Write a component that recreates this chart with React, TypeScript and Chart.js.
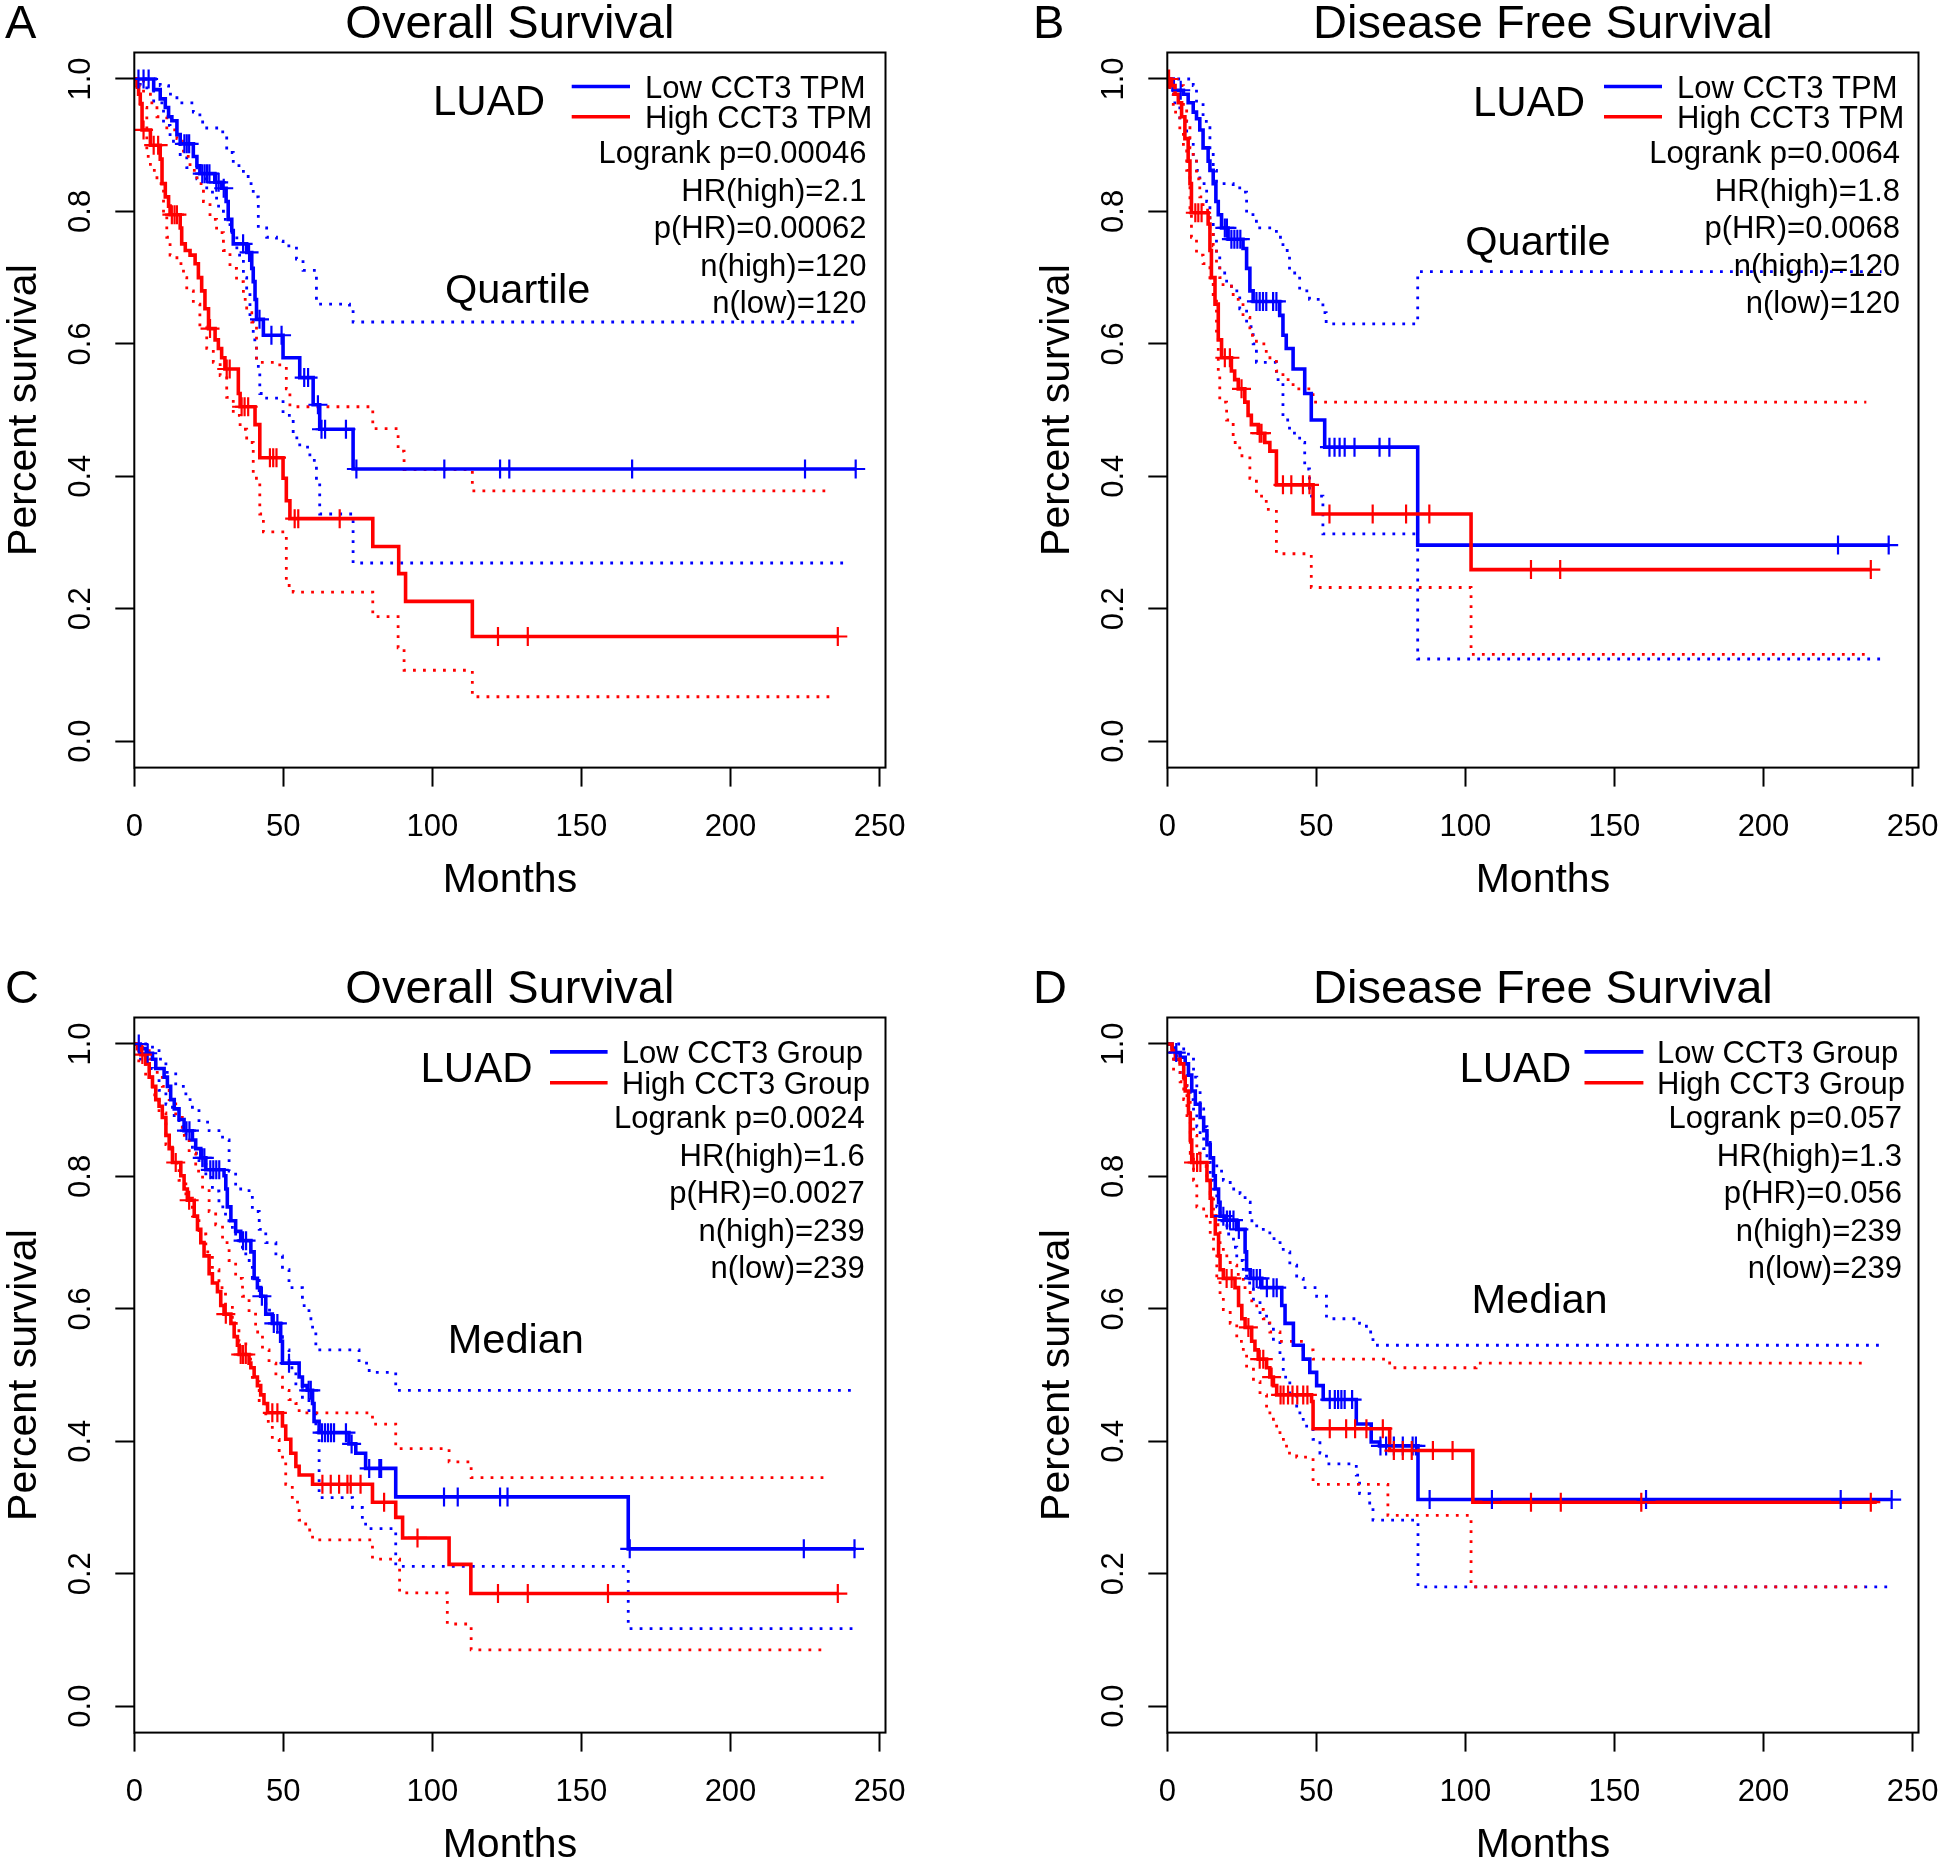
import React, { useEffect, useRef } from "react";
import { Chart, registerables } from "chart.js";

Chart.register(...registerables);

type Pair = [number, number];

// ---------------- Axis ticks ----------------
const xTickValues = [0, 50, 100, 150, 200, 250];
const xTickLabels = ["0", "50", "100", "150", "200", "250"];
const yTickValues = [0, 0.2, 0.4, 0.6, 0.8, 1.0];
const yTickLabels = ["0.0", "0.2", "0.4", "0.6", "0.8", "1.0"];

// ---------------- Text ----------------
const panelLetters = ["A", "B", "C", "D"];
const panelTitles = ["Overall Survival", "Disease Free Survival", "Overall Survival", "Disease Free Survival"];
const lowLabels = ["Low CCT3 TPM", "Low CCT3 TPM", "Low CCT3 Group", "Low CCT3 Group"];
const highLabels = ["High CCT3 TPM", "High CCT3 TPM", "High CCT3 Group", "High CCT3 Group"];
const cohortLabel = "LUAD";
const splitLabels = ["Quartile", "Quartile", "Median", "Median"];
const statsA = ["Logrank p=0.00046", "HR(high)=2.1", "p(HR)=0.00062", "n(high)=120", "n(low)=120"];
const statsB = ["Logrank p=0.0064", "HR(high)=1.8", "p(HR)=0.0068", "n(high)=120", "n(low)=120"];
const statsC = ["Logrank p=0.0024", "HR(high)=1.6", "p(HR)=0.0027", "n(high)=239", "n(low)=239"];
const statsD = ["Logrank p=0.057", "HR(high)=1.3", "p(HR)=0.056", "n(high)=239", "n(low)=239"];
const xAxisTitle = "Months";
const yAxisTitle = "Percent survival";

// ---------------- Panel A: OS, quartile ----------------
const aLowKM: Pair[] = [[0,1],[6.5,0.984],[8.7,0.97],[10.4,0.957],[11.5,0.943],[12.6,0.937],[14.3,0.916],[15.4,0.902],[19.8,0.883],[21,0.869],[22,0.857],[27,0.844],[29.3,0.835],[30.8,0.815],[31.5,0.788],[32.7,0.771],[33.2,0.751],[37.7,0.738],[39.4,0.714],[39.9,0.694],[40.5,0.667],[41,0.637],[43.3,0.613],[49.9,0.579],[55.5,0.549],[60,0.508],[62.2,0.471],[73.4,0.411],[242,0.411]];
const aLowCensor = [1.4,3.1,4.8,16.8,17.6,18.4,22.8,23.6,24.4,25.2,27.5,28.3,30,36.5,38.5,42,46,49.4,57,58.3,61.6,62.8,64,71,74.5,104,122.7,125.8,167,225,242];
const aLowUpper: Pair[] = [[0,1],[8.7,0.99],[11.5,0.977],[14.3,0.964],[19.8,0.95],[22,0.935],[24.3,0.926],[28.8,0.92],[31,0.889],[33.2,0.869],[36.6,0.856],[38.2,0.842],[39.9,0.822],[41.6,0.775],[44.4,0.761],[47.7,0.755],[49.9,0.748],[54.4,0.728],[56.6,0.711],[61.1,0.66],[72.2,0.653],[73.4,0.633],[242,0.633]];
const aLowLower: Pair[] = [[0,1],[2,0.99],[4.2,0.984],[6.5,0.964],[9.8,0.93],[12,0.906],[15.4,0.883],[17.6,0.866],[21,0.849],[24.3,0.829],[27.6,0.808],[29.9,0.788],[32.1,0.768],[34.4,0.734],[36.6,0.7],[37.7,0.68],[38.8,0.64],[39.9,0.606],[41,0.566],[42.1,0.525],[44.4,0.518],[49.9,0.492],[53.3,0.458],[55.5,0.444],[58.9,0.424],[61.1,0.39],[62.2,0.343],[73.4,0.269],[240,0.269]];
const aHighKM: Pair[] = [[0,1],[0.9,0.99],[1.45,0.977],[2,0.963],[2.6,0.923],[5.4,0.9],[8.7,0.879],[9.3,0.842],[10.4,0.822],[11.5,0.808],[12,0.795],[15.4,0.775],[15.9,0.751],[17.1,0.741],[18.7,0.734],[20.4,0.721],[21.5,0.7],[22.6,0.68],[23.7,0.653],[24.9,0.623],[27.1,0.606],[28.2,0.593],[29.3,0.579],[30.4,0.562],[34.9,0.525],[35.5,0.505],[40.5,0.478],[42.1,0.428],[49.9,0.397],[51,0.363],[52.2,0.336],[80,0.294],[88.7,0.253],[91,0.211],[113.4,0.158],[236,0.158]];
const aHighCensor = [3.1,6.5,8,12.6,13.5,14.3,25.4,31,32,36,37,38.2,45.5,46.6,47.7,53.8,55,68.9,122,132,236];
const aHighUpper: Pair[] = [[0,1],[3.1,0.977],[5.4,0.964],[7.6,0.943],[10.9,0.923],[14.3,0.91],[16.5,0.883],[18.7,0.862],[21,0.842],[23.2,0.815],[25.4,0.788],[27.6,0.768],[29.9,0.741],[32.1,0.714],[34.3,0.694],[36.6,0.667],[37.7,0.647],[39.4,0.633],[41,0.572],[48.8,0.566],[51,0.532],[52.2,0.505],[80,0.472],[88.5,0.438],[90.5,0.41],[113.4,0.378],[234,0.378]];
const aHighLower: Pair[] = [[0,1],[0.9,0.977],[2,0.957],[4.2,0.883],[5.4,0.862],[7.6,0.842],[9.8,0.795],[10.9,0.761],[12,0.734],[14.3,0.721],[16.5,0.7],[17.6,0.68],[19.8,0.66],[22,0.626],[24.3,0.593],[26.5,0.572],[28.8,0.552],[31,0.519],[33.2,0.492],[35.5,0.471],[37.7,0.451],[39.9,0.397],[42.1,0.343],[43.3,0.316],[51,0.235],[53.3,0.225],[80,0.188],[88.5,0.141],[90.5,0.107],[113.4,0.067],[234,0.067]];

// ---------------- Panel B: DFS, quartile ----------------
const bLowKM: Pair[] = [[0,1],[2,0.983],[5.4,0.977],[7,0.964],[8.7,0.95],[9.8,0.94],[10.9,0.923],[12,0.896],[13.7,0.876],[14.3,0.862],[15.4,0.842],[16.3,0.815],[17.1,0.795],[18.2,0.775],[20.4,0.758],[25.4,0.744],[26.6,0.714],[27.7,0.68],[28.8,0.664],[37.7,0.643],[38.8,0.613],[39.9,0.593],[42.2,0.562],[46.1,0.525],[48.3,0.485],[52.8,0.444],[84,0.296],[242,0.296]];
const bLowCensor = [4.5,19.3,20,21.5,22.5,23.5,24.5,29.9,31,32.1,33.2,35.5,36.6,54.4,56.1,57.8,59.5,62.8,71.2,74.5,225,242];
const bLowUpper: Pair[] = [[0,1],[8.7,0.99],[9.8,0.964],[12,0.936],[14.3,0.889],[15.4,0.862],[16.5,0.842],[22.1,0.838],[24.3,0.829],[26.6,0.795],[29.9,0.775],[36.6,0.761],[38.8,0.741],[41,0.707],[44.4,0.68],[47.7,0.667],[52.2,0.647],[53.3,0.63],[84,0.709],[239.6,0.709]];
const bLowLower: Pair[] = [[0,1],[0.9,0.977],[2,0.964],[4.2,0.936],[6.5,0.91],[8.7,0.883],[9.8,0.862],[10.9,0.842],[13.2,0.815],[14.3,0.788],[15.4,0.761],[16.5,0.734],[17.6,0.707],[19.9,0.687],[22.1,0.68],[24.3,0.653],[26.6,0.626],[28.8,0.6],[29.9,0.572],[36.6,0.546],[38.8,0.485],[41,0.465],[44.4,0.451],[46.1,0.411],[47.7,0.37],[52.2,0.313],[84,0.124],[239.6,0.124]];
const bHighKM: Pair[] = [[0,1],[1.45,0.99],[2.6,0.977],[3.7,0.964],[4.8,0.943],[5.9,0.91],[7,0.876],[7.6,0.842],[8.1,0.798],[13.7,0.781],[14.3,0.741],[14.8,0.7],[16,0.66],[17.1,0.606],[18.2,0.579],[21.5,0.559],[22.6,0.546],[23.8,0.532],[26,0.512],[27.1,0.492],[28.2,0.478],[30.5,0.465],[32.7,0.451],[34.4,0.438],[36.6,0.387],[48.9,0.343],[101.9,0.259],[236,0.259]];
const bHighCensor = [0.6,9.4,10.4,11.5,19.3,21,24.9,31,31.6,38.8,41.6,45.5,47.7,54.4,68.9,80.1,87.9,122,131.8,236];
const bHighUpper: Pair[] = [[0,1],[2,0.99],[5.4,0.957],[6.5,0.936],[7.6,0.896],[8.7,0.876],[9.8,0.849],[10.9,0.822],[12,0.802],[14.3,0.775],[15.4,0.748],[16.5,0.721],[17.6,0.7],[18.7,0.687],[22.1,0.667],[25.4,0.64],[27.7,0.613],[29.9,0.6],[33.2,0.579],[36.6,0.559],[38.8,0.546],[42.2,0.532],[48.9,0.512],[234.5,0.512]];
const bHighLower: Pair[] = [[0,1],[0.9,0.977],[2,0.95],[4.2,0.923],[5.4,0.896],[6.5,0.862],[7.6,0.802],[8.1,0.761],[9.8,0.734],[12,0.721],[14.3,0.694],[15.4,0.667],[16.5,0.613],[17.1,0.559],[17.6,0.512],[19.9,0.485],[22.1,0.451],[24.3,0.431],[27.7,0.397],[29.9,0.37],[33.2,0.35],[36.6,0.283],[48.3,0.232],[101.9,0.131],[234.5,0.131]];

// ---------------- Panel C: OS, median ----------------
const cLowKM: Pair[] = [[0,1],[2,0.993],[4,0.986],[6.1,0.977],[7.2,0.963],[10,0.95],[11.1,0.936],[12.2,0.916],[13.4,0.902],[15,0.886],[16.7,0.869],[19.5,0.855],[20.6,0.842],[22.3,0.828],[24,0.81],[30.1,0.801],[30.7,0.781],[31.2,0.754],[32.4,0.733],[34,0.717],[35.7,0.703],[39.1,0.686],[40.2,0.646],[41.3,0.632],[42.4,0.619],[44.1,0.592],[46.3,0.578],[49.1,0.551],[49.7,0.518],[55.3,0.497],[56.4,0.484],[58,0.477],[59.8,0.457],[60.3,0.43],[62,0.413],[72,0.396],[74.3,0.382],[77.6,0.359],[87.7,0.316],[165.7,0.2375],[242,0.2375]];
const cLowCensor = [1.5,4.5,17.5,18.5,22.8,23.5,25.5,26.5,27.5,28.5,36.5,37.5,42.8,46.8,48,51.9,58.5,59.2,63,64,65,66,67,71,72.9,78.8,82.2,82.8,103.9,108.5,122.7,125.2,166.2,224.6,241.6];
const cLowUpper: Pair[] = [[0,1],[6.1,0.99],[8.3,0.977],[10.6,0.957],[13.9,0.936],[17.3,0.916],[19.5,0.902],[21.7,0.882],[25.1,0.869],[29.6,0.855],[31.8,0.808],[34,0.781],[38.5,0.774],[39.6,0.747],[41.9,0.72],[44.1,0.7],[47.5,0.68],[49.7,0.659],[51.9,0.632],[56.4,0.605],[58.6,0.585],[59.8,0.565],[60.9,0.538],[75.4,0.518],[78.8,0.504],[87.7,0.477],[241.6,0.477]];
const cLowLower: Pair[] = [[0,1],[1.6,0.977],[3.8,0.963],[6.1,0.95],[8.3,0.93],[10.6,0.909],[12.8,0.892],[15,0.875],[17.3,0.855],[19.5,0.835],[21.7,0.818],[24,0.801],[26.2,0.778],[28.4,0.754],[30.6,0.733],[32.9,0.713],[35.1,0.693],[37.4,0.673],[39.6,0.646],[41.9,0.619],[44.1,0.598],[46.3,0.578],[48,0.558],[49.7,0.538],[51.9,0.511],[54.2,0.484],[56.4,0.463],[58.6,0.443],[60.9,0.416],[62,0.315],[73.2,0.3],[76.5,0.28],[77.6,0.268],[87.7,0.211],[165.7,0.117],[241.6,0.117]];
const cHighKM: Pair[] = [[0,1],[1.05,0.993],[2.2,0.984],[3.8,0.97],[5,0.95],[6.1,0.936],[7.2,0.916],[8.3,0.906],[9.4,0.889],[10.6,0.862],[11.7,0.842],[12.8,0.821],[15.6,0.801],[16.7,0.781],[17.8,0.764],[20.1,0.74],[21.2,0.72],[22.3,0.7],[23.4,0.68],[25.1,0.653],[26.2,0.639],[27.9,0.626],[29,0.605],[30.1,0.592],[32.4,0.578],[33.5,0.558],[34.6,0.545],[35.2,0.531],[38.5,0.518],[39.1,0.511],[40.2,0.497],[41.3,0.484],[42.4,0.47],[43.5,0.457],[44.7,0.443],[49.7,0.423],[50.8,0.403],[52.5,0.382],[54.2,0.362],[55.3,0.349],[59.8,0.335],[79.9,0.308],[87.7,0.285],[90,0.254],[105.6,0.214],[112.9,0.17],[236,0.17]];
const cHighCensor = [2.7,13.9,18.4,30.7,35.7,36.5,37.4,46.3,48,63.1,65.9,68.7,71.5,72.6,75.9,83.8,95,122,132,158.9,236];
const cHighUpper: Pair[] = [[0,1],[2.7,0.99],[5,0.977],[7.2,0.957],[9.4,0.936],[11.7,0.916],[13.9,0.889],[16.1,0.862],[18.4,0.835],[20.6,0.808],[22.9,0.781],[25.1,0.747],[27.3,0.727],[29.6,0.7],[31.8,0.673],[34,0.646],[36.3,0.619],[38.5,0.592],[40.7,0.565],[43,0.538],[45.2,0.518],[47.5,0.497],[49.7,0.477],[51.9,0.463],[54.2,0.457],[55.3,0.443],[79.9,0.426],[87.7,0.389],[105.6,0.369],[113,0.345],[232,0.345]];
const cHighLower: Pair[] = [[0,1],[1.5,0.97],[3.8,0.95],[6.1,0.923],[8.3,0.896],[10.6,0.848],[12.8,0.82],[15,0.794],[17.3,0.767],[19.5,0.74],[21.7,0.713],[24,0.686],[26.2,0.659],[28.4,0.632],[30.6,0.605],[32.9,0.578],[35.1,0.551],[37.4,0.524],[39.6,0.49],[41.9,0.457],[44.1,0.43],[46.3,0.403],[48.6,0.376],[50.8,0.335],[53,0.308],[55.3,0.281],[57.5,0.266],[59.8,0.251],[79.9,0.222],[89,0.171],[105,0.124],[113,0.085],[232,0.085]];

// ---------------- Panel D: DFS, median ----------------
const dLowKM: Pair[] = [[0,1],[1.6,0.994],[2.7,0.987],[4.3,0.98],[6,0.97],[7.1,0.953],[8.2,0.929],[9.4,0.909],[11,0.889],[12.2,0.869],[13.3,0.848],[14.4,0.828],[15.5,0.801],[16.1,0.781],[17.2,0.761],[17.7,0.74],[19.4,0.734],[23.3,0.72],[26.1,0.686],[26.6,0.659],[27.8,0.646],[31.7,0.632],[38.4,0.605],[39.5,0.578],[42.3,0.545],[45.6,0.524],[47.8,0.504],[50.1,0.484],[52.3,0.463],[63.4,0.426],[68.4,0.399],[71.2,0.393],[84.1,0.312],[243,0.312]];
const dLowCensor = [3,18.8,20,21,22.2,24,28.9,30,31.1,33.4,35.6,36.7,54.5,56.2,57.3,58.4,59.5,62,71.5,73.4,76,79,82.3,83.4,88,108.9,160.6,225.9,243];
const dLowUpper: Pair[] = [[0,1],[5.5,0.99],[7.1,0.977],[8.8,0.95],[9.9,0.929],[11,0.902],[12.2,0.875],[13.3,0.855],[14.4,0.834],[15.5,0.821],[16.6,0.808],[18.8,0.794],[21.1,0.781],[24.4,0.774],[26.1,0.761],[27.8,0.733],[30,0.72],[34.4,0.706],[36.7,0.7],[38.9,0.686],[41.1,0.666],[43.4,0.646],[45.6,0.632],[50.1,0.619],[53.4,0.585],[64.5,0.578],[66.8,0.565],[69,0.545],[239,0.545]];
const dLowLower: Pair[] = [[0,1],[2.1,0.977],[4.3,0.957],[6.6,0.936],[7.7,0.916],[8.8,0.896],[9.9,0.875],[11,0.862],[12.2,0.842],[13.3,0.821],[14.4,0.794],[15.5,0.774],[16.6,0.754],[17.7,0.733],[20,0.713],[22.2,0.693],[23.3,0.673],[25.5,0.653],[26.6,0.639],[28.9,0.612],[31.1,0.592],[33.3,0.578],[35.6,0.551],[37.8,0.524],[38.9,0.497],[41.1,0.47],[43.4,0.443],[45.6,0.423],[48.9,0.403],[51.2,0.382],[53.4,0.366],[63.4,0.349],[64.5,0.321],[67.9,0.3],[69,0.281],[84.1,0.18],[242,0.18]];
const dHighKM: Pair[] = [[0,1],[1.6,0.99],[2.7,0.977],[4.3,0.97],[5.5,0.95],[6,0.929],[7.1,0.895],[7.7,0.855],[8.2,0.821],[13.3,0.794],[14.4,0.767],[14.9,0.74],[16.1,0.713],[17.2,0.68],[17.7,0.659],[18.8,0.646],[22.7,0.632],[23.9,0.605],[25,0.585],[26.1,0.572],[28.3,0.551],[29.4,0.538],[30.5,0.524],[33.3,0.511],[34.4,0.497],[35.6,0.484],[36.7,0.47],[48.4,0.46],[48.9,0.419],[74.6,0.386],[102.5,0.308],[238,0.308]];
const dHighCensor = [8.8,10,11.1,19.9,21.6,27.2,31,32.2,35,38,39,40.5,42,43.6,45.6,47,54.5,60,63,66.8,72.3,76,79,82,89.1,95.7,122,132,159,236];
const dHighUpper: Pair[] = [[0,1],[2.1,0.99],[3.2,0.977],[4.3,0.963],[5.5,0.943],[6.6,0.916],[7.7,0.889],[8.8,0.862],[9.9,0.835],[11,0.815],[13.3,0.794],[14.4,0.774],[15.5,0.747],[16.6,0.727],[17.7,0.7],[18.8,0.68],[21.1,0.666],[23.3,0.652],[25.5,0.632],[27.8,0.612],[30,0.599],[32.2,0.585],[34.4,0.565],[37.8,0.551],[45.6,0.538],[48.9,0.524],[74.6,0.511],[103.6,0.518],[234,0.518]];
const dHighLower: Pair[] = [[0,1],[1,0.977],[2.1,0.957],[4.3,0.943],[5.5,0.916],[6.6,0.882],[7.7,0.835],[8.8,0.794],[9.9,0.754],[12.2,0.74],[14.4,0.713],[15.5,0.68],[16.6,0.646],[17.7,0.62],[18.8,0.599],[21.1,0.578],[23.3,0.551],[25.5,0.531],[26.6,0.511],[28.9,0.49],[31.1,0.47],[33.3,0.443],[35.6,0.423],[37.8,0.403],[40,0.382],[43.4,0.376],[48.9,0.335],[74,0.288],[101.9,0.18],[234,0.18]];

// ---------------- Layout (positions/styles, not data) ----------------
const PANEL_W = 911;
const PANEL_H = 894;
const BOX = { left: 134.3, top: 52.5, right: 885.5, bottom: 767.6 };
const Y_AXIS_W = 100;
const X_AXIS_H = 100;
const X_MAX = 252;
const BLUE = "#0000ff";
const RED = "#ff0000";
const FONT = '"Liberation Sans", Arial, Helvetica, sans-serif';

type Layout = {
  left: number; top: number; letterX: number;
  luadCX: number; luadBase: number;
  legX1: number; legX2: number; legY: [number, number];
  legTextX: number; statsRight: number;
  splitCX: number; splitBase: number;
};

const layouts: Layout[] = [
  { left: 0, top: 0, letterX: 5, luadCX: 489, luadBase: 115, legX1: 571.7, legX2: 630, legY: [86.5, 116.7], legTextX: 645, statsRight: 866.5, splitCX: 517.6, splitBase: 302.5 },
  { left: 1033, top: 0, letterX: 0, luadCX: 496, luadBase: 116, legX1: 571, legX2: 629, legY: [86.5, 116.7], legTextX: 644, statsRight: 867, splitCX: 505, splitBase: 255 },
  { left: 0, top: 964.5, letterX: 5, luadCX: 476.5, luadBase: 117, legX1: 550, legX2: 607.6, legY: [86.9, 117.8], legTextX: 621.8, statsRight: 864.8, splitCX: 515.8, splitBase: 388 },
  { left: 1033, top: 964.5, letterX: 0, luadCX: 482.4, luadBase: 117, legX1: 551.5, legX2: 610.4, legY: [86.9, 117.8], legTextX: 624, statsRight: 869, splitCX: 506.6, splitBase: 347.5 },
];

type PanelData = {
  lowKM: Pair[]; lowCensor: number[]; lowUpper: Pair[]; lowLower: Pair[];
  highKM: Pair[]; highCensor: number[]; highUpper: Pair[]; highLower: Pair[];
  stats: string[];
};

const panels: PanelData[] = [
  { lowKM: aLowKM, lowCensor: aLowCensor, lowUpper: aLowUpper, lowLower: aLowLower, highKM: aHighKM, highCensor: aHighCensor, highUpper: aHighUpper, highLower: aHighLower, stats: statsA },
  { lowKM: bLowKM, lowCensor: bLowCensor, lowUpper: bLowUpper, lowLower: bLowLower, highKM: bHighKM, highCensor: bHighCensor, highUpper: bHighUpper, highLower: bHighLower, stats: statsB },
  { lowKM: cLowKM, lowCensor: cLowCensor, lowUpper: cLowUpper, lowLower: cLowLower, highKM: cHighKM, highCensor: cHighCensor, highUpper: cHighUpper, highLower: cHighLower, stats: statsC },
  { lowKM: dLowKM, lowCensor: dLowCensor, lowUpper: dLowUpper, lowLower: dLowLower, highKM: dHighKM, highCensor: dHighCensor, highUpper: dHighUpper, highLower: dHighLower, stats: statsD },
];

const toXY = (arr: Pair[]) => arr.map(([x, y]) => ({ x, y }));
const stepAt = (curve: Pair[], t: number) => {
  let v = curve[0][1];
  for (const [x, y] of curve) {
    if (x <= t) v = y;
    else break;
  }
  return v;
};

function stepLine(data: Pair[], color: string, width: number, order: number) {
  return {
    data: toXY(data), borderColor: color, borderWidth: width, stepped: "before" as const,
    pointRadius: 0, fill: false, order, borderCapStyle: "butt" as const, borderJoinStyle: "miter" as const,
  };
}
function dottedLine(data: Pair[], color: string, order: number) {
  return { ...stepLine(data, color, 2.8, order), borderDash: [2.8, 7.2] };
}
function censorMarks(times: number[], curve: Pair[], color: string, order: number) {
  return {
    data: times.map((t) => ({ x: t, y: stepAt(curve, t) })), showLine: false,
    pointStyle: "cross" as const, pointRadius: 9.5, pointBorderWidth: 2.2, borderColor: color,
    pointBorderColor: color, backgroundColor: color, order,
  };
}

function makePlugin(idx: number) {
  const lay = layouts[idx];
  const pd = panels[idx];
  return {
    id: "gepiaText" + idx,
    afterDraw(chart: any) {
      const ctx: CanvasRenderingContext2D = chart.ctx;
      const ca = chart.chartArea;
      const xs = chart.scales.x;
      const ys = chart.scales.y;
      ctx.save();
      // plot box
      ctx.strokeStyle = "#000";
      ctx.lineWidth = 2;
      ctx.strokeRect(ca.left, ca.top, ca.right - ca.left, ca.bottom - ca.top);
      ctx.fillStyle = "#000";
      // panel letter and title
      ctx.font = `47px ${FONT}`;
      ctx.textBaseline = "alphabetic";
      ctx.textAlign = "left";
      ctx.fillText(panelLetters[idx], lay.letterX, 38);
      ctx.textAlign = "center";
      ctx.fillText(panelTitles[idx], (ca.left + ca.right) / 2, 38);
      // axis titles
      ctx.font = `41px ${FONT}`;
      ctx.fillText(xAxisTitle, (ca.left + ca.right) / 2, 892);
      ctx.save();
      ctx.translate(36, (ca.top + ca.bottom) / 2);
      ctx.rotate(-Math.PI / 2);
      ctx.fillText(yAxisTitle, 0, 0);
      ctx.restore();
      // tick labels
      ctx.font = `31px ${FONT}`;
      xTickValues.forEach((v, i) => {
        ctx.fillText(xTickLabels[i], xs.getPixelForValue(v), 836);
      });
      yTickValues.forEach((v, i) => {
        ctx.save();
        ctx.translate(90, ys.getPixelForValue(v));
        ctx.rotate(-Math.PI / 2);
        ctx.fillText(yTickLabels[i], 0, 0);
        ctx.restore();
      });
      // cohort label
      ctx.font = `42px ${FONT}`;
      ctx.fillText(cohortLabel, lay.luadCX, lay.luadBase);
      // legend
      ctx.lineWidth = 3.6;
      ctx.lineCap = "butt";
      [BLUE, RED].forEach((c, i) => {
        ctx.strokeStyle = c;
        ctx.beginPath();
        ctx.moveTo(lay.legX1, lay.legY[i]);
        ctx.lineTo(lay.legX2, lay.legY[i]);
        ctx.stroke();
      });
      ctx.font = `31px ${FONT}`;
      ctx.textAlign = "left";
      ctx.fillText(lowLabels[idx], lay.legTextX, lay.legY[0] + 11.2);
      ctx.fillText(highLabels[idx], lay.legTextX, lay.legY[1] + 11.2);
      // statistics
      ctx.textAlign = "right";
      pd.stats.forEach((s, i) => {
        ctx.fillText(s, lay.statsRight, 163.3 + i * 37.5);
      });
      // split label
      ctx.font = `41.5px ${FONT}`;
      ctx.textAlign = "center";
      ctx.fillText(splitLabels[idx], lay.splitCX, lay.splitBase);
      ctx.restore();
    },
  };
}

function buildConfig(idx: number): any {
  const pd = panels[idx];
  return {
    type: "line",
    data: {
      datasets: [
        censorMarks(pd.highCensor, pd.highKM, RED, 1),
        censorMarks(pd.lowCensor, pd.lowKM, BLUE, 2),
        stepLine(pd.highKM, RED, 3.6, 3),
        stepLine(pd.lowKM, BLUE, 3.6, 4),
        dottedLine(pd.highUpper, RED, 5),
        dottedLine(pd.highLower, RED, 5),
        dottedLine(pd.lowUpper, BLUE, 6),
        dottedLine(pd.lowLower, BLUE, 6),
      ],
    },
    options: {
      responsive: false,
      maintainAspectRatio: false,
      animation: false,
      events: [],
      layout: {
        padding: {
          left: BOX.left - Y_AXIS_W,
          top: BOX.top,
          right: PANEL_W - BOX.right,
          bottom: PANEL_H - BOX.bottom - X_AXIS_H,
        },
      },
      plugins: { legend: { display: false }, tooltip: { enabled: false }, title: { display: false } },
      scales: {
        x: {
          type: "linear", min: 0, max: X_MAX,
          afterBuildTicks: (s: any) => { s.ticks = xTickValues.map((v) => ({ value: v })); },
          afterFit: (s: any) => { s.height = X_AXIS_H; },
          ticks: { display: false },
          grid: { display: true, drawOnChartArea: false, drawTicks: true, tickLength: 19, tickWidth: 2, tickColor: "#000" },
          border: { display: false },
        },
        y: {
          type: "linear", min: -0.04, max: 1.04,
          afterBuildTicks: (s: any) => { s.ticks = yTickValues.map((v) => ({ value: v })); },
          afterFit: (s: any) => { s.width = Y_AXIS_W; },
          ticks: { display: false },
          grid: { display: true, drawOnChartArea: false, drawTicks: true, tickLength: 19, tickWidth: 2, tickColor: "#000" },
          border: { display: false },
        },
      },
    },
    plugins: [makePlugin(idx)],
  };
}

function Panel({ idx }: { idx: number }) {
  const ref = useRef<HTMLCanvasElement | null>(null);
  useEffect(() => {
    if (!ref.current) return;
    const chart = new Chart(ref.current, buildConfig(idx));
    return () => chart.destroy();
  }, [idx]);
  const lay = layouts[idx];
  return (
    <canvas
      ref={ref}
      width={PANEL_W}
      height={PANEL_H}
      style={{ position: "absolute", left: lay.left, top: lay.top, width: PANEL_W, height: PANEL_H }}
    />
  );
}

export default function App() {
  return (
    <div style={{ position: "absolute", left: 0, top: 0, width: 1944, height: 1859, background: "#fff", overflow: "hidden" }}>
      {[0, 1, 2, 3].map((i) => (
        <Panel key={i} idx={i} />
      ))}
    </div>
  );
}
